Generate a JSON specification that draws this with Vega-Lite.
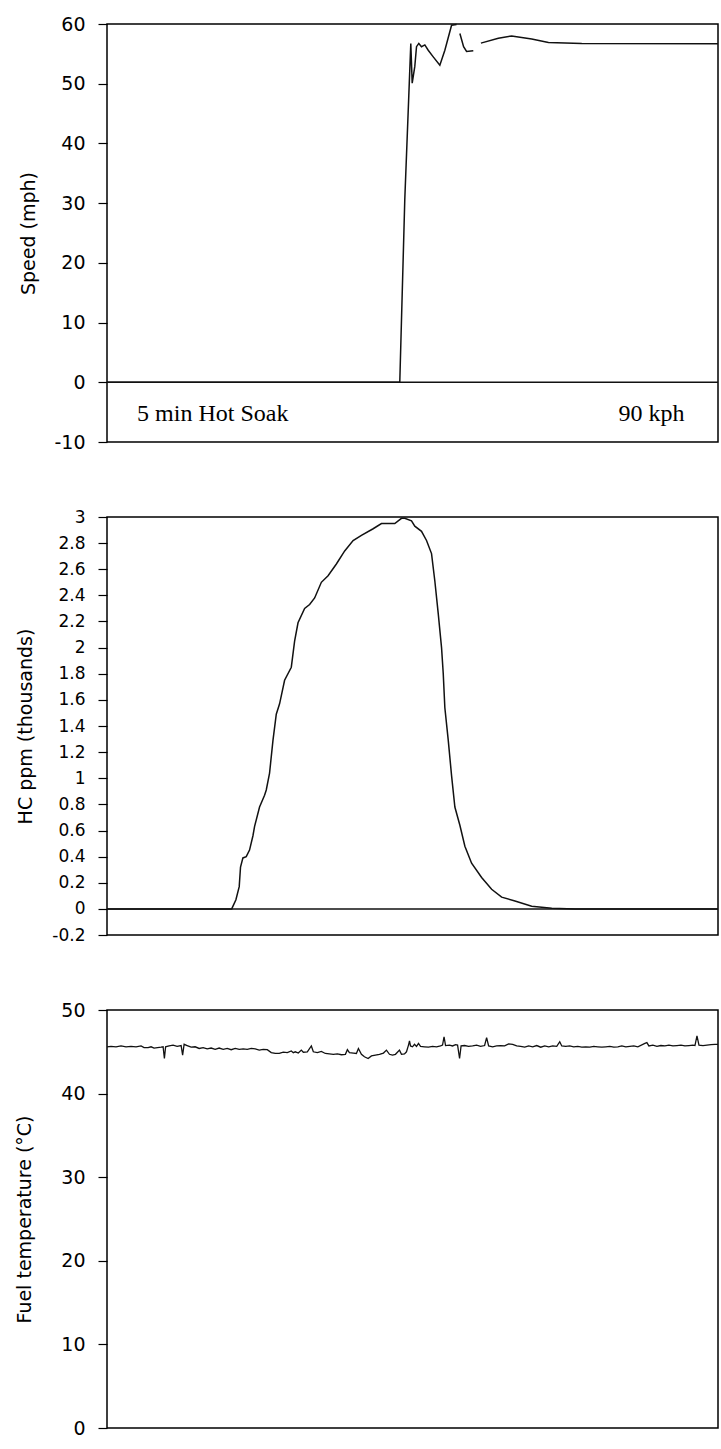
{
  "$schema": "https://vega.github.io/schema/vega-lite/v6.json",
  "padding": {"left": 14, "top": 14, "right": 2, "bottom": 5},
  "background": "white",
  "bounds": "flush",
  "spacing": 75,
  "datasets": {
    "zero": [{"v": 0}],
    "speed": [
      {"seg": 1, "t": 0, "v": 0}, {"seg": 1, "t": 292.3, "v": 0}, {"seg": 1, "t": 297.3, "v": 30.6}, {"seg": 1, "t": 301.3, "v": 48},
      {"seg": 1, "t": 303.3, "v": 56.75}, {"seg": 1, "t": 304.7, "v": 50.1}, {"seg": 1, "t": 307.3, "v": 52.9}, {"seg": 1, "t": 309, "v": 56.2},
      {"seg": 1, "t": 311.3, "v": 56.75}, {"seg": 1, "t": 314, "v": 56.2}, {"seg": 1, "t": 317.3, "v": 56.5}, {"seg": 1, "t": 320.7, "v": 55.6},
      {"seg": 1, "t": 325.7, "v": 54.5}, {"seg": 1, "t": 332.3, "v": 53.1}, {"seg": 1, "t": 337.3, "v": 55.6}, {"seg": 1, "t": 344, "v": 59.8},
      {"seg": 1, "t": 349, "v": 59.9},
      {"seg": 2, "t": 352.3, "v": 58.4}, {"seg": 2, "t": 356, "v": 56.2}, {"seg": 2, "t": 359, "v": 55.4}, {"seg": 2, "t": 365.7, "v": 55.5},
      {"seg": 3, "t": 373.3, "v": 56.8}, {"seg": 3, "t": 390.7, "v": 57.6}, {"seg": 3, "t": 404, "v": 58.0}, {"seg": 3, "t": 424, "v": 57.5},
      {"seg": 3, "t": 440.7, "v": 56.9}, {"seg": 3, "t": 474, "v": 56.75}, {"seg": 3, "t": 610, "v": 56.7}
    ],
    "notes": [
      {"label": "5 min Hot Soak", "t": 30, "v": -6.5},
      {"label": "90 kph", "t": 510.7, "v": -6.5}
    ],
    "hc": [
      {"t": 0, "v": 0}, {"t": 124.5, "v": 0}, {"t": 128.7, "v": 0.07}, {"t": 132, "v": 0.17}, {"t": 133.3, "v": 0.32},
      {"t": 135.7, "v": 0.39}, {"t": 139, "v": 0.4}, {"t": 142.3, "v": 0.45}, {"t": 145.7, "v": 0.56}, {"t": 147.3, "v": 0.63},
      {"t": 152.3, "v": 0.78}, {"t": 157.3, "v": 0.87}, {"t": 159, "v": 0.91}, {"t": 162.3, "v": 1.04}, {"t": 165.7, "v": 1.29},
      {"t": 169, "v": 1.49}, {"t": 172.3, "v": 1.57}, {"t": 177.3, "v": 1.75}, {"t": 184, "v": 1.85}, {"t": 187.3, "v": 2.05},
      {"t": 190.7, "v": 2.19}, {"t": 197.3, "v": 2.3}, {"t": 202.3, "v": 2.33}, {"t": 207.3, "v": 2.38}, {"t": 214, "v": 2.5},
      {"t": 220.7, "v": 2.55}, {"t": 229, "v": 2.64}, {"t": 237.3, "v": 2.74}, {"t": 245.7, "v": 2.82}, {"t": 254, "v": 2.86},
      {"t": 265.7, "v": 2.91}, {"t": 274, "v": 2.95}, {"t": 287.3, "v": 2.95}, {"t": 294, "v": 2.99}, {"t": 297.3, "v": 2.99},
      {"t": 304, "v": 2.97}, {"t": 307.3, "v": 2.93}, {"t": 314, "v": 2.89}, {"t": 319, "v": 2.82}, {"t": 324, "v": 2.72},
      {"t": 327.3, "v": 2.51}, {"t": 330.7, "v": 2.26}, {"t": 334, "v": 2.0}, {"t": 335.7, "v": 1.8}, {"t": 337.3, "v": 1.54},
      {"t": 340.7, "v": 1.29}, {"t": 344, "v": 1.02}, {"t": 347.3, "v": 0.78}, {"t": 352.3, "v": 0.64}, {"t": 357.3, "v": 0.48},
      {"t": 364, "v": 0.35}, {"t": 374, "v": 0.24}, {"t": 384, "v": 0.15}, {"t": 394, "v": 0.09}, {"t": 407.3, "v": 0.06},
      {"t": 424, "v": 0.02}, {"t": 444, "v": 0.005}, {"t": 467.3, "v": 0}, {"t": 610, "v": 0}
    ],
    "fuel": [
      {"t": 0, "v": 45.6}, {"t": 4, "v": 45.65}, {"t": 9, "v": 45.6}, {"t": 14, "v": 45.7}, {"t": 19, "v": 45.6}, {"t": 24, "v": 45.65},
      {"t": 29, "v": 45.6}, {"t": 34, "v": 45.7}, {"t": 37, "v": 45.5}, {"t": 41, "v": 45.5}, {"t": 44, "v": 45.6}, {"t": 47, "v": 45.45},
      {"t": 54, "v": 45.55}, {"t": 56, "v": 45.6}, {"t": 57.3, "v": 44.2}, {"t": 58.5, "v": 45.6}, {"t": 62, "v": 45.7}, {"t": 66, "v": 45.8},
      {"t": 70, "v": 45.65}, {"t": 74, "v": 45.75}, {"t": 75.5, "v": 44.6}, {"t": 77, "v": 45.9}, {"t": 80, "v": 45.75}, {"t": 84, "v": 45.55},
      {"t": 88, "v": 45.6}, {"t": 92, "v": 45.4}, {"t": 96, "v": 45.5}, {"t": 100, "v": 45.35}, {"t": 104, "v": 45.45}, {"t": 108, "v": 45.3},
      {"t": 112, "v": 45.45}, {"t": 116, "v": 45.3}, {"t": 120, "v": 45.4}, {"t": 124, "v": 45.25}, {"t": 128, "v": 45.4}, {"t": 132, "v": 45.3},
      {"t": 136, "v": 45.35}, {"t": 140, "v": 45.3}, {"t": 144, "v": 45.4}, {"t": 148, "v": 45.35}, {"t": 152, "v": 45.2}, {"t": 156, "v": 45.3},
      {"t": 160, "v": 45.25}, {"t": 164, "v": 44.9}, {"t": 168, "v": 44.8}, {"t": 172, "v": 44.8}, {"t": 176, "v": 44.95}, {"t": 180, "v": 44.9},
      {"t": 184, "v": 45.1}, {"t": 186, "v": 44.9}, {"t": 188, "v": 45.0}, {"t": 191, "v": 44.85}, {"t": 194, "v": 45.2}, {"t": 196, "v": 44.95},
      {"t": 200, "v": 45.0}, {"t": 204, "v": 45.7}, {"t": 206, "v": 45.0}, {"t": 210, "v": 44.9}, {"t": 214, "v": 45.05}, {"t": 218, "v": 44.8},
      {"t": 222, "v": 44.75}, {"t": 226, "v": 44.7}, {"t": 230, "v": 44.75}, {"t": 234, "v": 44.65}, {"t": 238, "v": 44.7}, {"t": 240, "v": 45.25},
      {"t": 242, "v": 44.9}, {"t": 246, "v": 44.85}, {"t": 249, "v": 44.8}, {"t": 251, "v": 45.4}, {"t": 254, "v": 44.7}, {"t": 257, "v": 44.4},
      {"t": 260.7, "v": 44.2}, {"t": 264, "v": 44.5}, {"t": 268, "v": 44.6}, {"t": 272, "v": 44.7}, {"t": 276, "v": 44.85}, {"t": 279, "v": 45.2},
      {"t": 282, "v": 44.7}, {"t": 285, "v": 44.6}, {"t": 288, "v": 44.7}, {"t": 292, "v": 45.2}, {"t": 294, "v": 44.7}, {"t": 297, "v": 44.75},
      {"t": 299, "v": 45.0}, {"t": 301, "v": 45.8}, {"t": 302, "v": 46.3}, {"t": 303, "v": 45.7}, {"t": 305, "v": 45.6}, {"t": 307, "v": 45.9},
      {"t": 309, "v": 45.65}, {"t": 311, "v": 46.0}, {"t": 313, "v": 45.65}, {"t": 317, "v": 45.6}, {"t": 321, "v": 45.55}, {"t": 325, "v": 45.65},
      {"t": 329, "v": 45.6}, {"t": 333, "v": 45.7}, {"t": 335, "v": 45.8}, {"t": 336.5, "v": 46.8}, {"t": 338, "v": 45.75}, {"t": 342, "v": 45.8},
      {"t": 345, "v": 45.7}, {"t": 348, "v": 45.85}, {"t": 350, "v": 45.8}, {"t": 352, "v": 44.2}, {"t": 353.5, "v": 45.7}, {"t": 357, "v": 45.75},
      {"t": 361, "v": 45.65}, {"t": 365, "v": 45.7}, {"t": 369, "v": 45.8}, {"t": 373, "v": 45.65}, {"t": 377, "v": 45.75}, {"t": 379, "v": 46.7},
      {"t": 381, "v": 45.7}, {"t": 385, "v": 45.6}, {"t": 389, "v": 45.7}, {"t": 393, "v": 45.75}, {"t": 397, "v": 45.7}, {"t": 401, "v": 45.95},
      {"t": 405, "v": 45.9}, {"t": 409, "v": 45.7}, {"t": 413, "v": 45.65}, {"t": 417, "v": 45.55}, {"t": 421, "v": 45.7}, {"t": 425, "v": 45.6},
      {"t": 429, "v": 45.75}, {"t": 433, "v": 45.55}, {"t": 437, "v": 45.7}, {"t": 441, "v": 45.6}, {"t": 445, "v": 45.7}, {"t": 449, "v": 45.65},
      {"t": 452, "v": 46.2}, {"t": 454, "v": 45.7}, {"t": 458, "v": 45.65}, {"t": 462, "v": 45.7}, {"t": 466, "v": 45.6}, {"t": 470, "v": 45.65},
      {"t": 474, "v": 45.55}, {"t": 478, "v": 45.6}, {"t": 482, "v": 45.55}, {"t": 486, "v": 45.65}, {"t": 490, "v": 45.6}, {"t": 494, "v": 45.55},
      {"t": 498, "v": 45.6}, {"t": 502, "v": 45.65}, {"t": 506, "v": 45.55}, {"t": 510, "v": 45.6}, {"t": 514, "v": 45.7}, {"t": 518, "v": 45.6},
      {"t": 522, "v": 45.65}, {"t": 526, "v": 45.7}, {"t": 530, "v": 45.6}, {"t": 537, "v": 46.0}, {"t": 539, "v": 46.1}, {"t": 541, "v": 45.7},
      {"t": 545, "v": 45.8}, {"t": 549, "v": 45.65}, {"t": 553, "v": 45.75}, {"t": 557, "v": 45.7}, {"t": 561, "v": 45.8}, {"t": 565, "v": 45.7},
      {"t": 569, "v": 45.75}, {"t": 573, "v": 45.8}, {"t": 577, "v": 45.7}, {"t": 581, "v": 45.75}, {"t": 585, "v": 45.8}, {"t": 587, "v": 45.75},
      {"t": 589, "v": 46.9}, {"t": 591, "v": 45.8}, {"t": 595, "v": 45.75}, {"t": 599, "v": 45.8}, {"t": 603, "v": 45.85}, {"t": 607, "v": 45.9},
      {"t": 610, "v": 45.9}
    ]
  },
  "vconcat": [
    {
      "width": 611,
      "height": 418,
      "layer": [
        {
          "data": {"name": "speed"},
          "mark": {"type": "line", "color": "#111", "strokeWidth": 1.5},
          "encoding": {
            "x": {"field": "t", "type": "quantitative", "scale": {"domain": [0, 610], "nice": false, "zero": false}, "axis": null},
            "y": {"field": "v", "type": "quantitative", "scale": {"domain": [-10, 60], "nice": false, "zero": false},
                  "axis": {"title": "Speed (mph)", "values": [-10, 0, 10, 20, 30, 40, 50, 60], "titleX": -79, "labelOverlap": false,
                           "labelExpr": "replace(format(datum.value, '~g'), '\u2212', '-')"}},
            "detail": {"field": "seg", "type": "nominal"}
          }
        },
        {
          "data": {"name": "zero"},
          "mark": {"type": "rule", "color": "#111", "strokeWidth": 1.5},
          "encoding": {"y": {"field": "v", "type": "quantitative",
                  "axis": {"title": "Speed (mph)", "values": [-10, 0, 10, 20, 30, 40, 50, 60], "titleX": -79, "labelOverlap": false,
                           "labelExpr": "replace(format(datum.value, '~g'), '\u2212', '-')"}}}
        },
        {
          "data": {"name": "notes"},
          "mark": {"type": "text", "align": "left", "baseline": "alphabetic", "font": "Liberation Serif", "fontSize": 24, "color": "#000"},
          "encoding": {
            "x": {"field": "t", "type": "quantitative"},
            "y": {"field": "v", "type": "quantitative",
                  "axis": {"title": "Speed (mph)", "values": [-10, 0, 10, 20, 30, 40, 50, 60], "titleX": -79, "labelOverlap": false,
                           "labelExpr": "replace(format(datum.value, '~g'), '\u2212', '-')"}},
            "text": {"field": "label"}
          }
        }
      ]
    },
    {
      "width": 611,
      "height": 418,
      "layer": [
        {
          "data": {"name": "hc"},
          "mark": {"type": "line", "color": "#111", "strokeWidth": 1.5},
          "encoding": {
            "x": {"field": "t", "type": "quantitative", "scale": {"domain": [0, 610], "nice": false, "zero": false}, "axis": null},
            "y": {"field": "v", "type": "quantitative", "scale": {"domain": [-0.2, 3], "nice": false, "zero": false},
                  "axis": {"title": "HC ppm (thousands)", "titleX": -82, "labelFontSize": 17, "labelOverlap": false,
                           "values": [-0.2, 0, 0.2, 0.4, 0.6, 0.8, 1, 1.2, 1.4, 1.6, 1.8, 2, 2.2, 2.4, 2.6, 2.8, 3],
                           "labelExpr": "replace(format(datum.value, '~g'), '\u2212', '-')"}}
          }
        },
        {
          "data": {"name": "zero"},
          "mark": {"type": "rule", "color": "#111", "strokeWidth": 1.5},
          "encoding": {"y": {"field": "v", "type": "quantitative",
                  "axis": {"title": "HC ppm (thousands)", "titleX": -82, "labelFontSize": 17, "labelOverlap": false,
                           "values": [-0.2, 0, 0.2, 0.4, 0.6, 0.8, 1, 1.2, 1.4, 1.6, 1.8, 2, 2.2, 2.4, 2.6, 2.8, 3],
                           "labelExpr": "replace(format(datum.value, '~g'), '\u2212', '-')"}}}
        }
      ]
    },
    {
      "width": 611,
      "height": 418,
      "layer": [
        {
          "data": {"name": "fuel"},
          "mark": {"type": "line", "color": "#111", "strokeWidth": 1.3},
          "encoding": {
            "x": {"field": "t", "type": "quantitative", "scale": {"domain": [0, 610], "nice": false, "zero": false}, "axis": null},
            "y": {"field": "v", "type": "quantitative", "scale": {"domain": [0, 50], "nice": false, "zero": false},
                  "axis": {"title": "Fuel temperature (°C)", "titleX": -83, "values": [0, 10, 20, 30, 40, 50]}}
          }
        }
      ]
    }
  ],
  "config": {
    "view": {"stroke": "#000", "strokeWidth": 1.5},
    "axisY": {
      "domain": false,
      "grid": false,
      "ticks": true,
      "tickSize": 9,
      "tickWidth": 1.2,
      "tickColor": "#000",
      "labelPadding": 13,
      "labelFont": "DejaVu Sans",
      "labelFontSize": 19,
      "labelColor": "#000",
      "labelOverlap": false,
      "titleFont": "DejaVu Sans",
      "titleFontSize": 19,
      "titleFontWeight": "normal",
      "titleColor": "#000",
      "titleBaseline": "middle"
    }
  }
}
